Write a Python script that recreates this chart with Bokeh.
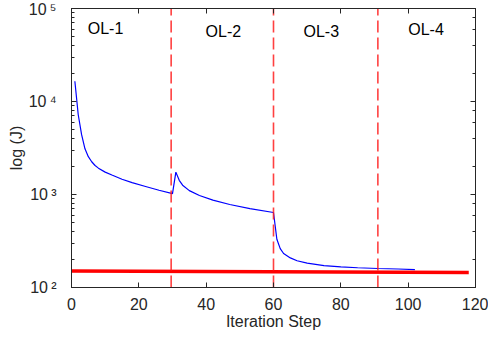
from bokeh.plotting import figure
from bokeh.models import LogAxis, LinearAxis, ColumnDataSource, FixedTicker, CustomJSTickFormatter
from bokeh.core.properties import value
from bokeh.embed import file_html
from bokeh.resources import INLINE

# ---------------- data ----------------
blue_steps = [1, 2, 3, 4, 5, 6, 7, 8, 10, 12, 15, 18, 22, 26, 30,
              31, 32, 33, 35, 38, 42, 47, 53, 60,
              61, 62, 63, 65, 67, 70, 75, 80, 85, 91, 97, 102]
blue_values = [16500, 7200, 4400, 3100, 2550, 2250, 2050, 1920, 1740, 1620, 1460, 1340, 1220, 1110, 1020,
               1740, 1420, 1260, 1100, 975, 870, 780, 705, 640,
               330, 262, 232, 208, 194, 183, 172, 167, 163, 160, 158, 156]

red_steps = [0, 118]
red_values = [150, 145]

boundaries = [29.6, 60, 91]

ol_names = ["OL-1", "OL-2", "OL-3", "OL-4"]
ol_x = [10.1, 45.1, 74.2, 105.3]
ol_y = [61000, 57000, 57000, 59000]

x_ticks = [0, 20, 40, 60, 80, 100, 120]
y_tick_values = [100, 1000, 10000, 100000]
y_tick_labels = ["10\u2009\u00b2", "10\u2009\u00b3", "10\u2009\u2074", "10\u2009\u2075"]

FONT = "Liberation Sans"
AXC = "#262626"

p = figure(width=488, height=334, x_range=(0, 120), y_range=(100, 100000),
           y_axis_type="log", output_backend="svg", toolbar_location=None,
           min_border_left=71, min_border_right=13, min_border_top=8, min_border_bottom=47)
p.outline_line_color = None
p.xgrid.visible = False
p.ygrid.visible = False
p.background_fill_color = "white"
p.border_fill_color = "white"

# blue curve
p.line(blue_steps, blue_values, line_color="#0000ff", line_width=1.2)
# red thick line
p.line(red_steps, red_values, line_color="#ff0000", line_width=3.5)
# dashed boundaries
p.segment(x0=boundaries, x1=boundaries, y0=[100] * len(boundaries), y1=[100000] * len(boundaries),
          line_color="#ff1f1f", line_width=1.6, line_dash="12 5", line_alpha=0.85)

# OL labels
src = ColumnDataSource(dict(x=ol_x, y=ol_y, t=ol_names))
p.text(x="x", y="y", text="t", source=src, text_font=value(FONT), text_font_size="16px",
       text_align="center", text_baseline="middle", text_color="black")

blank = CustomJSTickFormatter(code="return '';")

def style_axis(ax, labels=True):
    ax.axis_line_color = AXC
    ax.axis_line_width = 1
    ax.major_tick_line_color = AXC
    ax.minor_tick_line_color = AXC
    ax.major_tick_in = 5
    ax.major_tick_out = 0
    ax.minor_tick_in = 3
    ax.minor_tick_out = 0
    ax.major_label_text_font = FONT
    ax.major_label_text_color = AXC
    ax.axis_label_text_font = FONT
    ax.axis_label_text_font_style = "normal"
    ax.axis_label_text_color = AXC
    if not labels:
        ax.formatter = blank
        ax.major_label_standoff = 0

# bottom x axis
xa = p.xaxis[0]
style_axis(xa)
xa.ticker = FixedTicker(ticks=x_ticks)
xa.major_label_text_font_size = "16px"
xa.major_label_standoff = 10
xa.axis_label = "Iteration Step"
xa.axis_label_text_font_size = "16px"
xa.axis_label_standoff = 0

# left y axis
ya = p.yaxis[0]
style_axis(ya)
ya.major_label_overrides = dict(zip(y_tick_values, y_tick_labels))
ya.major_label_text_font_size = "16px"
ya.major_label_standoff = 15
ya.axis_label = "log (J)"
ya.axis_label_text_font_size = "16px"
ya.axis_label_standoff = 1

# top and right mirror axes
top = LinearAxis(ticker=FixedTicker(ticks=x_ticks))
style_axis(top, labels=False)
p.add_layout(top, "above")
right = LogAxis()
style_axis(right, labels=False)
p.add_layout(right, "right")

open("out.html", "w").write(file_html(p, INLINE))
